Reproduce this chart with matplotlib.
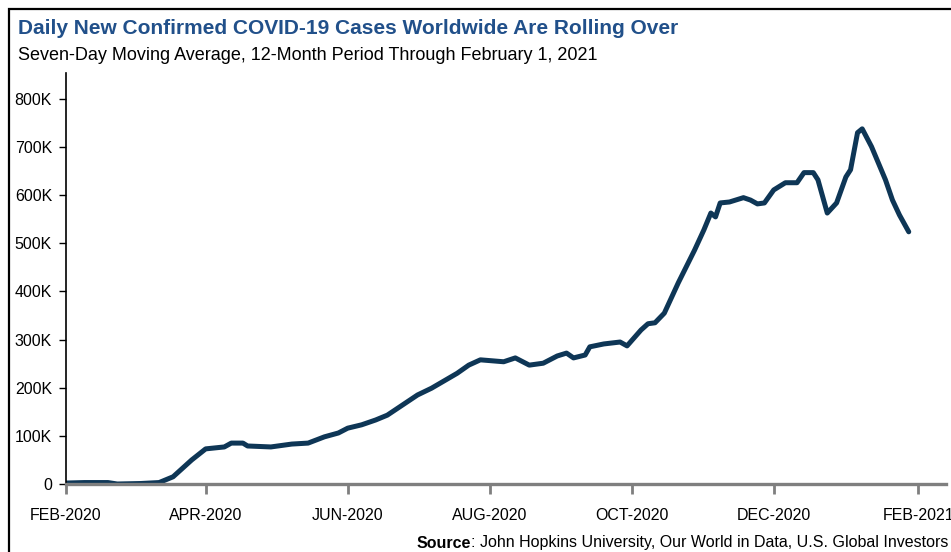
import pandas as pd
import matplotlib.pyplot as plt
import matplotlib.dates as mdates
from matplotlib.patches import Rectangle
from matplotlib.ticker import FuncFormatter

# seven-day average of daily new cases
dates = ['2020-02-01', '2020-02-09', '2020-02-19', '2020-02-23', '2020-03-04', '2020-03-12',
         '2020-03-18', '2020-03-26', '2020-04-01', '2020-04-09', '2020-04-12', '2020-04-17',
         '2020-04-19', '2020-04-29', '2020-05-08', '2020-05-15', '2020-05-22', '2020-05-28',
         '2020-06-01', '2020-06-07', '2020-06-13', '2020-06-18', '2020-07-01', '2020-07-07',
         '2020-07-18', '2020-07-23', '2020-07-28', '2020-08-07', '2020-08-12', '2020-08-18',
         '2020-08-24', '2020-08-30', '2020-09-03', '2020-09-06', '2020-09-11', '2020-09-13',
         '2020-09-19', '2020-09-26', '2020-09-29', '2020-10-05', '2020-10-08', '2020-10-11',
         '2020-10-15', '2020-10-21', '2020-10-28', '2020-11-01', '2020-11-04', '2020-11-06',
         '2020-11-08', '2020-11-12', '2020-11-18', '2020-11-21', '2020-11-24', '2020-11-27',
         '2020-12-01', '2020-12-06', '2020-12-11', '2020-12-14', '2020-12-18', '2020-12-20',
         '2020-12-24', '2020-12-28', '2021-01-01', '2021-01-03', '2021-01-06', '2021-01-08',
         '2021-01-12', '2021-01-18', '2021-01-21', '2021-01-24', '2021-01-28']
cases = [2, 3, 3, 0, 1, 3,
         15, 50, 73, 77, 85, 85,
         79, 77, 83, 85, 98, 106,
         116, 123, 133, 143, 185, 199,
         230, 247, 258, 254, 262, 247,
         251, 266, 272, 262, 268, 285,
         291, 295, 287, 320, 333, 335,
         355, 418, 486, 528, 563, 555,
         584, 586, 595, 590, 582, 584,
         611, 626, 626, 647, 647, 632,
         563, 584, 638, 653, 730, 738,
         701, 632, 590, 559, 524]  # thousands

tick_dates = ['2020-02-01', '2020-04-01', '2020-06-01', '2020-08-01',
              '2020-10-01', '2020-12-01', '2021-02-01']

plt.rcParams['font.family'] = ['Liberation Sans', 'DejaVu Sans']

x = pd.to_datetime(dates)
y = [c * 1000 for c in cases]

fig = plt.figure(figsize=(9.51, 5.52), dpi=100)
ax = fig.add_axes([66 / 951, 1 - 484 / 552, 880 / 951, 411 / 552])

ax.plot(x, y, color='#0e3656', lw=3.6, solid_capstyle='round', solid_joinstyle='round')

ax.set_xlim(pd.Timestamp('2020-02-01'), pd.Timestamp('2021-02-13'))
ax.set_ylim(0, 854000)
ax.set_xticks(pd.to_datetime(tick_dates))
ax.set_xticklabels([pd.Timestamp(d).strftime('%b-%Y').upper() for d in tick_dates])
ax.set_yticks(range(0, 800001, 100000))
ax.yaxis.set_major_formatter(FuncFormatter(lambda v, p: '0' if v == 0 else f'{int(v / 1000)}K'))

for s in ['top', 'right']:
    ax.spines[s].set_visible(False)
ax.spines['left'].set_color('black')
ax.spines['left'].set_linewidth(1.2)
ax.spines['bottom'].set_color('#7f7f7f')
ax.spines['bottom'].set_linewidth(2.4)
ax.tick_params(axis='y', length=5, width=1, color='black', labelsize=11.5, pad=5)
ax.tick_params(axis='x', length=7, width=2, color='#7f7f7f', labelsize=11.5, pad=10)

fig.text(18 / 951, 1 - 29 / 552, 'Daily New Confirmed COVID-19 Cases Worldwide Are Rolling Over',
         fontsize=15, fontweight='bold', color='#21508a', va='center')
fig.text(18 / 951, 1 - 56 / 552, 'Seven-Day Moving Average, 12-Month Period Through February 1, 2021',
         fontsize=13, color='black', va='center')

rest = fig.text(948 / 951, 1 - 543 / 552,
                ': John Hopkins University, Our World in Data, U.S. Global Investors',
                fontsize=11.5, va='center', ha='right')
fig.canvas.draw()
bb = rest.get_window_extent(fig.canvas.get_renderer())
fig.text(bb.x0 / fig.bbox.width, 1 - 543 / 552, 'Source', fontsize=11.5, fontweight='bold',
         va='center', ha='right')

# outer frame, cut at the right and bottom edges like the source image
fig.patches.append(Rectangle((9 / 951, -0.1), 1.2, 1.1 - 9 / 552, transform=fig.transFigure,
                             fill=False, edgecolor='black', lw=1.6, clip_on=False))

fig.savefig('out.png', dpi=100)
